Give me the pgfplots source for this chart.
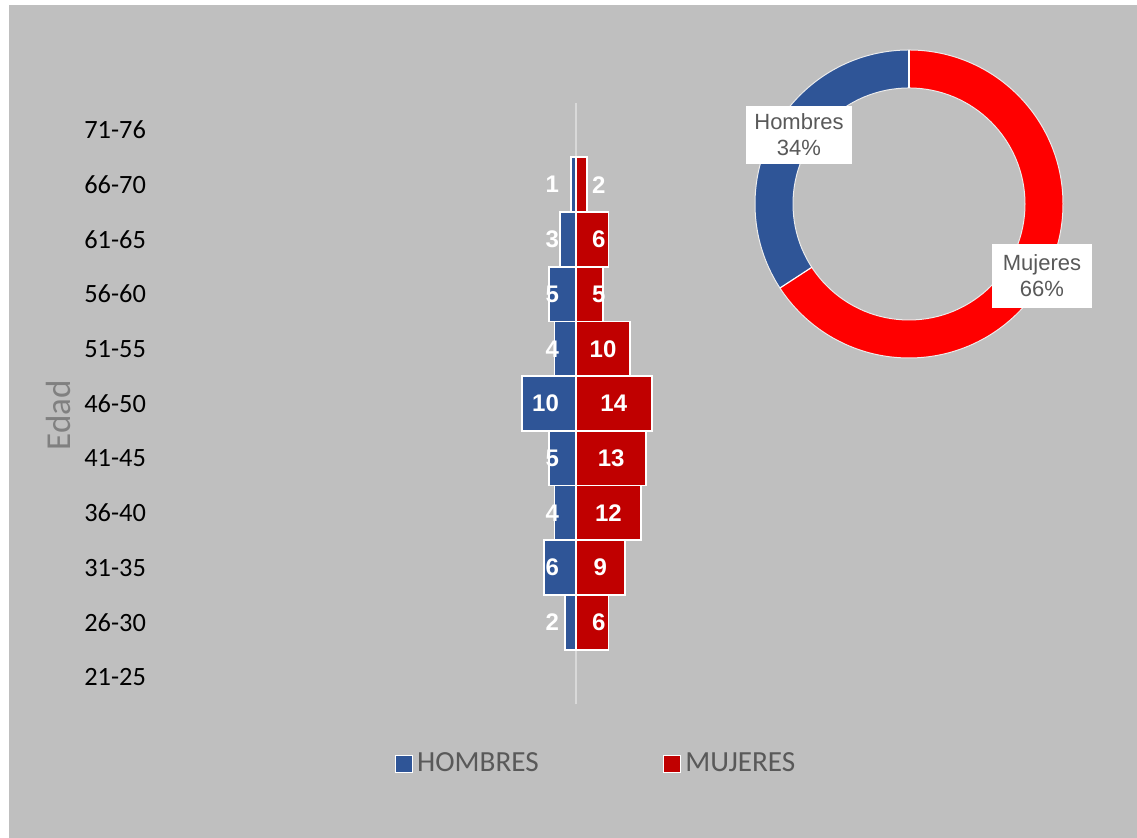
\documentclass[border=0pt]{standalone}
\usepackage{fontspec}
\setmainfont{Carlito}
\newfontfamily\arialfont{Liberation Sans}
\usepackage{pgfplots}
\pgfplotsset{compat=1.18}
\usepackage{pgfplotstable}

\definecolor{bg}{HTML}{BFBFBF}
\definecolor{hblue}{HTML}{2F5597}
\definecolor{mred}{HTML}{C00000}
\definecolor{dred}{HTML}{FF0000}
\definecolor{lgray}{HTML}{595959}
\definecolor{edadgray}{HTML}{808080}
\definecolor{linegray}{HTML}{D9D9D9}

% y: category index (0 = 21-25 ... 10 = 71-76), m = hombres, w = mujeres
\pgfplotstableread{
y m w
1 2 6
2 6 9
3 4 12
4 5 13
5 10 14
6 4 10
7 5 5
8 3 6
9 1 2
}\pyr

% totals for the donut
\def\totM{40}
\def\totW{77}

\begin{document}
\begin{tikzpicture}
\fill[white] (0,0) rectangle (568.5pt,419pt);
\fill[bg] (4.5pt,0) rectangle (568.5pt,416.5pt);

\begin{axis}[
  scale only axis,
  x=2.7pt, y=27.35pt,
  xmin=-78.89, xmax=20,
  ymin=-0.5, ymax=10.5,
  anchor=south west, at={(75pt,66.825pt)},
  axis line style={draw=none},
  xtick=\empty,
  ytick={0,...,10},
  yticklabels={21-25,26-30,31-35,36-40,41-45,46-50,51-55,56-60,61-65,66-70,71-76},
  major tick length=0pt,
  yticklabel style={font=\fontsize{13.2}{15}\selectfont, text=black, xshift=1.5pt},
  ylabel={Edad},
  ylabel style={font=\fontsize{17.5}{20}\selectfont, text=edadgray, at={(ticklabel cs:0.475)}, xshift=1.5pt},
  legend columns=2,
  legend style={at={(0.837,-0.099)}, anchor=center, draw=none, fill=none,
    font=\fontsize{14.6}{16}\selectfont, text=lgray,
    /tikz/every even column/.append style={column sep=60pt}},
  legend image code/.code={\draw[#1,line width=0.8pt] (0pt,-4.25pt) rectangle (8.5pt,4.25pt);},
  clip=false,
]
\draw[color=linegray, line width=1pt] (axis cs:0,-0.5) -- (axis cs:0,10.5);
\addplot[xbar, bar width=1, bar shift=0pt, fill=hblue, draw=white, line width=0.9pt]
  table[x expr=-\thisrow{m}, y=y] {\pyr};
\addlegendentry{HOMBRES}
\addplot[xbar, bar width=1, bar shift=0pt, fill=mred, draw=white, line width=0.9pt]
  table[x=w, y=y] {\pyr};
\addlegendentry{MUJERES}
\addplot[draw=none, mark=none, forget plot, nodes near coords, point meta=explicit symbolic,
  nodes near coords align={east},
  every node near coord/.append style={inner sep=0pt, text=white, font=\arialfont\bfseries\fontsize{12}{14}\selectfont}]
  table[x expr=-3.1, y=y, meta=m] {\pyr};
\addplot[draw=none, mark=none, forget plot, nodes near coords, point meta=explicit symbolic,
  nodes near coords align={center},
  every node near coord/.append style={inner sep=0pt, text=white, font=\arialfont\bfseries\fontsize{12}{14}\selectfont}]
  table[x expr={max(\thisrow{w}/2,4.2)}, y=y, meta=w] {\pyr};
\end{axis}

\pgfmathsetmacro\aM{90+360*\totM/(\totM+\totW)}
\begin{axis}[
  hide axis, scale only axis,
  x=77pt, y=77pt,
  xmin=-1, xmax=1, ymin=-1, ymax=1,
  anchor=center, at={(454.5pt,317pt)},
  clip=false,
]
\draw[hblue, line width=19pt] (axis cs:0,0) ++(90:67.5pt) arc[start angle=90, end angle=\aM, radius=67.5pt];
\draw[dred, line width=19pt] (axis cs:0,0) ++(\aM:67.5pt) arc[start angle=\aM, end angle=450, radius=67.5pt];
\draw[white!70!bg, line width=0.5pt] (axis cs:0,0) circle[radius=77pt];
\draw[white!70!bg, line width=0.5pt] (axis cs:0,0) circle[radius=58pt];
\draw[white, line width=0.6pt] (axis cs:0,0) ++(90:58pt) -- ++(90:19pt);
\draw[white, line width=0.6pt] (axis cs:0,0) ++(\aM:58pt) -- ++(\aM:19pt);
\end{axis}

\node[fill=white, inner sep=0pt, minimum width=53pt, minimum height=29pt, align=center,
  text=lgray, font=\arialfont\fontsize{11}{13}\selectfont] at (399.5pt,351.5pt) {Hombres\\34\%};
\node[fill=white, inner sep=0pt, minimum width=50pt, minimum height=32pt, align=center,
  text=lgray, font=\arialfont\fontsize{11}{13}\selectfont] at (521pt,281pt) {Mujeres\\66\%};

\pgfresetboundingbox
\useasboundingbox (0,0) rectangle (568.5pt,419pt);
\end{tikzpicture}
\end{document}
